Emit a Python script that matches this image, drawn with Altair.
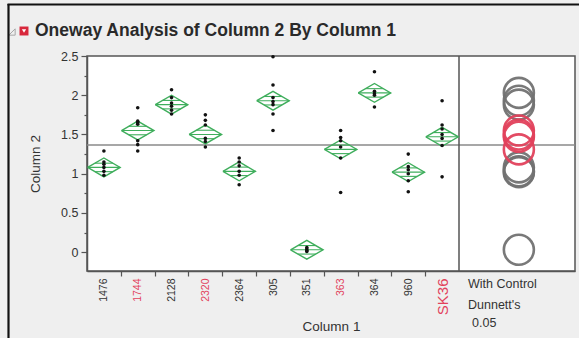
import altair as alt
import pandas as pd

# ---------------- data ----------------
categories = ["1476", "1744", "2128", "2320", "2364", "305", "351", "363", "364", "960", "SK36"]
red_labels = ["1744", "2320", "363", "SK36"]
means = [1.08, 1.55, 1.88, 1.50, 1.03, 1.93, 0.03, 1.31, 2.03, 1.02, 1.47]
ci_half = [0.12, 0.12, 0.12, 0.12, 0.12, 0.12, 0.12, 0.12, 0.12, 0.12, 0.12]
grand_mean = 1.365

obs_1476 = [1.29, 1.15, 1.12, 1.08, 1.03, 0.98]
obs_1744 = [1.84, 1.67, 1.65, 1.63, 1.42, 1.37, 1.29]
obs_2128 = [2.07, 1.97, 1.90, 1.86, 1.81, 1.76]
obs_2320 = [1.75, 1.68, 1.62, 1.45, 1.41, 1.34]
obs_2364 = [1.20, 1.15, 1.10, 1.03, 0.98, 0.86]
obs_305 = [2.49, 2.13, 1.97, 1.92, 1.88, 1.76, 1.55]
obs_351 = [0.06, 0.04, 0.02, 0.01]
obs_363 = [1.55, 1.46, 1.42, 1.34, 1.20, 0.76]
obs_364 = [2.30, 2.05, 2.02, 2.00, 1.85]
obs_960 = [1.25, 1.09, 1.05, 1.00, 0.91, 0.77]
obs_SK36 = [1.93, 1.62, 1.57, 1.50, 1.45, 1.36, 0.96]
observations = [obs_1476, obs_1744, obs_2128, obs_2320, obs_2364, obs_305,
                obs_351, obs_363, obs_364, obs_960, obs_SK36]

y_tick_values = [0, 0.25, 0.5, 0.75, 1, 1.25, 1.5, 1.75, 2, 2.25, 2.5]
x_tick_values = [0, 0.5, 1, 1.5, 2, 2.5, 3, 3.5, 4, 4.5, 5, 5.5, 6, 6.5, 7, 7.5, 8, 8.5, 9, 9.5, 10]
legend_lines = ["With Control", "Dunnett's", "0.05"]
title_text = "Oneway Analysis of Column 2 By Column 1"

# ---------------- styling constants ----------------
FONT = "Liberation Sans"
GREEN = "#3fae5c"
RED = "#e2425c"
GRAY = "#727272"
HW = 0.48            # diamond half width (band units)
CIRCLE_X = 12.27     # position of comparison circles in right panel
SEP_X = 10.5

pts = pd.DataFrame([
    {"x": i, "y": v, "group": c}
    for i, (c, vals) in enumerate(zip(categories, observations)) for v in vals
])

dia_rows = []
line_rows = []
for i, (c, m, h) in enumerate(zip(categories, means, ci_half)):
    for k, (dx, dy) in enumerate([(-HW, 0), (0, h), (HW, 0), (0, -h), (-HW, 0)]):
        dia_rows.append({"x": i + dx, "y": m + dy, "group": c, "k": k})
    line_rows.append({"x": i - HW, "x2": i + HW, "y": m, "group": c})
    for s in (1, -1):
        line_rows.append({"x": i - HW * 0.55, "x2": i + HW * 0.55, "y": m + s * 0.45 * h, "group": c})
dia = pd.DataFrame(dia_rows)
dlines = pd.DataFrame(line_rows)

circ = pd.DataFrame({
    "x": [CIRCLE_X] * len(categories),
    "y": means,
    "group": categories,
    "ctrl": ["red" if c in red_labels else "gray" for c in categories],
    "order": [1 if c in red_labels else 0 for c in categories],
})

names_expr = "[" + ",".join("'" + c + "'" for c in categories) + "]"
red_idx = [categories.index(c) for c in red_labels]
red_expr = "indexof([" + ",".join(str(i) for i in red_idx) + "], datum.value) >= 0"
ctrl_idx = categories.index("SK36")

xscale = alt.Scale(domain=[-0.5, 13.93], nice=False, zero=False)
yscale = alt.Scale(domain=[-0.24, 2.5], nice=False, zero=False)

x_axis = alt.Axis(
    values=x_tick_values,
    labelExpr="datum.value % 1 == 0 ? " + names_expr + "[datum.value] : ''",
    labelAngle=-90, labelFont=FONT, labelPadding=2,
    labelColor={"condition": {"test": red_expr, "value": RED}, "value": "#333333"},
    labelFontSize={"condition": {"test": "datum.value == " + str(ctrl_idx), "value": 15}, "value": 10.5},
    labelOverlap=False, labelFlush=False,
    tickOpacity={"condition": {"test": "datum.value % 1 == 0", "value": 0}, "value": 1},
    tickSize=5, tickColor="#555555", tickWidth=1.2,
    domainColor="#555555", domainWidth=1.5, grid=False,
    title="Column 1", titleFont=FONT, titleFontSize=13.5, titleFontWeight="normal",
    titleColor="#333333", titlePadding=5,
)
y_axis = alt.Axis(
    values=y_tick_values,
    labelExpr="datum.value % 0.5 == 0 ? format(datum.value, '~g') : ''",
    labelFont=FONT, labelFontSize=12.5, labelColor="#333333", labelPadding=3,
    labelFlush=False, labelOverlap=False,
    tickSize={"condition": {"test": "datum.value % 0.5 == 0", "value": 6}, "value": 3},
    tickColor="#555555", tickWidth=1.2,
    domainColor="#555555", domainWidth=1.5, grid=False,
    title="Column 2", titleFont=FONT, titleFontSize=13.5, titleFontWeight="normal",
    titleColor="#333333", titlePadding=18,
)


def X(f="x"):
    return alt.X(f, type="quantitative", scale=xscale, axis=x_axis, title="Column 1")


def Y(f="y"):
    return alt.Y(f, type="quantitative", scale=yscale, axis=y_axis, title="Column 2")


one = pd.DataFrame({"a": [0]})

mean_line = alt.Chart(pd.DataFrame({"y": [grand_mean]})).mark_rule(
    color="#8a8a8a", strokeWidth=1.5).encode(y=Y())

sep_line = alt.Chart(pd.DataFrame({"x": [SEP_X]})).mark_rule(
    color="#555555", strokeWidth=1.5).encode(x=X())

diamonds = alt.Chart(dia).mark_line(color=GREEN, strokeWidth=1.4).encode(
    x=X(), y=Y(), detail="group:N", order="k:Q")

inner = alt.Chart(dlines).mark_rule(color=GREEN, strokeWidth=1.1).encode(
    x=X(), x2="x2:Q", y=Y())

dots = alt.Chart(pts).mark_circle(color="#111111", size=13, opacity=1).encode(
    x=X(), y=Y())

circles = alt.Chart(circ).mark_point(filled=False, size=900, strokeWidth=2.6, opacity=0.95).encode(
    x=X(), y=Y(),
    color=alt.Color("ctrl:N", scale=alt.Scale(domain=["gray", "red"], range=[GRAY, RED]), legend=None),
    order="order:Q",
)

# annotation text under the right panel
legend_parts = []
for t, yy, xx in zip(legend_lines, [228, 249, 267], [381, 381, 385]):
    legend_parts.append(
        alt.Chart(pd.DataFrame({"t": [t]})).mark_text(
            align="left", baseline="middle", font=FONT, fontSize=12.5, color="#333333"
        ).encode(text="t:N", x=alt.value(xx), y=alt.value(yy))
    )

title = alt.Chart(pd.DataFrame({"t": [title_text]})).mark_text(
    align="left", baseline="middle", font=FONT, fontSize=17.5, fontWeight="bold", color="#2a2a2a"
).encode(text="t:N", x=alt.value(-52), y=alt.value(-25))

icon_red = alt.Chart(one).mark_point(shape="square", filled=True, color="#d8283c", size=80, opacity=1).encode(
    x=alt.value(-63), y=alt.value(-25))
icon_red_tri = alt.Chart(one).mark_point(shape="triangle-down", filled=True, color="white", size=18, opacity=1).encode(
    x=alt.value(-63), y=alt.value(-25))
icon_gray = alt.Chart(one).mark_point(shape="M1,-1L1,1L-1,1Z", filled=False, color="#8a8a8a", size=40, strokeWidth=1).encode(
    x=alt.value(-75), y=alt.value(-24))

border_left = alt.Chart(one).mark_rule(color="#111111", strokeWidth=2.2).encode(
    x=alt.value(-78.5), y=alt.value(-52), y2=alt.value(290))
border_top = alt.Chart(one).mark_rule(color="#111111", strokeWidth=2.2).encode(
    x=alt.value(-79.5), x2=alt.value(500), y=alt.value(-51.5))

chart = alt.layer(
    mean_line, sep_line, diamonds, inner, dots, circles,
    *legend_parts, title, icon_red, icon_red_tri, icon_gray, border_left, border_top,
).properties(
    width=488, height=215,
    autosize=alt.AutoSizeParams(type="none"),
    padding={"left": 87, "top": 56, "right": 4, "bottom": 67},
    background="#efefef",
).configure_view(
    fill="white", stroke="#555555", strokeWidth=1.5,
)

chart.save("out.html", embed_options={"renderer": "svg", "actions": False})
